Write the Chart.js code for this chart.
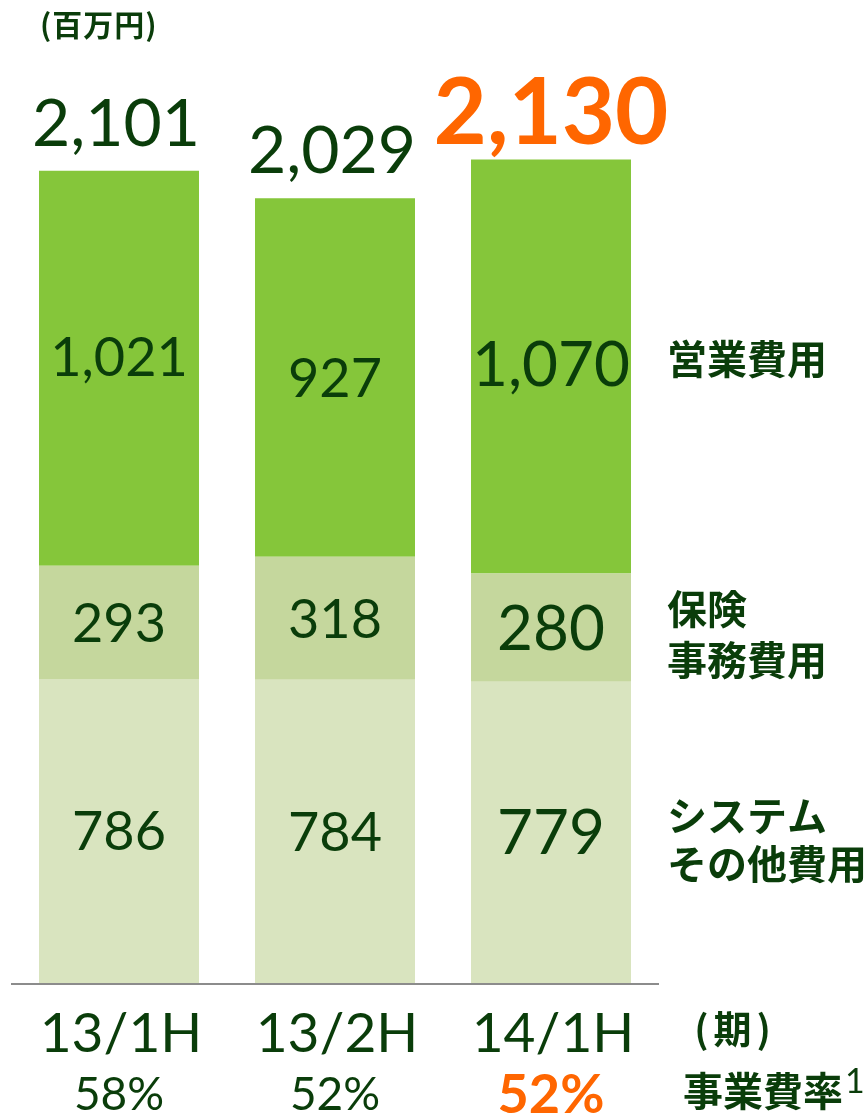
<!DOCTYPE html>
<html>
<head>
<meta charset="utf-8">
<script src="https://cdn.jsdelivr.net/npm/chart.js@4.4.1/dist/chart.umd.min.js"></script>
<style>
  html, body { margin: 0; padding: 0; background: #fff; }
  #wrap { width: 868px; height: 1117px; }
</style>
</head>
<body>
<div id="wrap"><canvas id="costChart" width="868" height="1117"></canvas></div>
<script>
// Data (百万円)
const periods = ['13/1H', '13/2H', '14/1H'];
const systemOther = [786, 784, 779];
const insuranceAdmin = [293, 318, 280];
const salesCost = [1021, 927, 1070];
const totals = [2101, 2029, 2130];
const expenseRatio = ['58%', '52%', '52%'];
const seriesNames = [['システム', 'その他費用'], ['保険', '事務費用'], ['営業費用']];
const highlightIndex = 2;

// Colours
const DARK = '#0A3D0A';
const ORANGE = '#FF6600';
const AXIS = '#8C8C8C';
const NUM_FONT = 'Lato, "Noto Sans", sans-serif';
const JP_FONT = '"Noto Sans CJK JP", sans-serif';

const fmt = v => v.toLocaleString('en-US');

// Draws values, totals, category labels and series names
const labelPlugin = {
    id: 'costLabels',
    afterDatasetsDraw(chart) {
        const { ctx, chartArea } = chart;
        const bottom = chartArea.bottom;
        ctx.save();

        // baseline
        ctx.strokeStyle = AXIS;
        ctx.lineWidth = 2;
        ctx.beginPath();
        ctx.moveTo(chartArea.left, bottom + 1);
        ctx.lineTo(chartArea.right, bottom + 1);
        ctx.stroke();

        // values inside segments (top value of first bar sits a bit high in the original)
        const nudge = [[0, 0, 0], [0, 0, 0], [-12, 0, -2]];
        ctx.textAlign = 'center';
        ctx.textBaseline = 'middle';
        ctx.fillStyle = DARK;
        chart.data.datasets.forEach((ds, i) => {
            chart.getDatasetMeta(i).data.forEach((bar, j) => {
                const size = j === highlightIndex ? 62 : 54;
                ctx.font = `${size}px ${NUM_FONT}`;
                ctx.fillText(fmt(ds.data[j]), bar.x, (bar.y + bar.base) / 2 + 2 + nudge[i][j]);
            });
        });

        // totals above bars
        ctx.textBaseline = 'alphabetic';
        const topMeta = chart.getDatasetMeta(chart.data.datasets.length - 1);
        topMeta.data.forEach((bar, j) => {
            if (j === highlightIndex) {
                ctx.font = `bold 92px ${NUM_FONT}`;
                ctx.fillStyle = ORANGE;
                ctx.fillText(fmt(totals[j]), bar.x, bar.y - 16);
            } else {
                ctx.font = `66px ${NUM_FONT}`;
                ctx.fillStyle = DARK;
                ctx.fillText(fmt(totals[j]), bar.x - 3, bar.y - 25);
            }
        });

        // category + ratio labels
        topMeta.data.forEach((bar, j) => {
            ctx.fillStyle = DARK;
            ctx.font = `55px ${NUM_FONT}`;
            ctx.fillText(periods[j], bar.x + 2, bottom + 69);
            if (j === highlightIndex) {
                ctx.fillStyle = ORANGE;
                ctx.font = `bold 54px ${NUM_FONT}`;
                ctx.fillText(expenseRatio[j], bar.x, bottom + 130);
            } else {
                ctx.font = `46px ${NUM_FONT}`;
                ctx.fillText(expenseRatio[j], bar.x, bottom + 127);
            }
        });

        // series names, next to last bar
        ctx.fillStyle = DARK;
        ctx.textAlign = 'left';
        ctx.textBaseline = 'middle';
        ctx.font = `bold 40px ${JP_FONT}`;
        const nameX = chartArea.right + 8;
        const nameOffset = [7, 7, -8];
        const lineGap = [48, 51, 0];
        chart.data.datasets.forEach((ds, i) => {
            const bar = chart.getDatasetMeta(i).data[highlightIndex];
            const mid = (bar.y + bar.base) / 2 + nameOffset[i];
            const lines = seriesNames[i];
            lines.forEach((t, k) => {
                const yy = mid + (k - (lines.length - 1) / 2) * lineGap[i];
                ctx.fillText(t, nameX, yy);
            });
        });

        // unit + period + ratio captions
        ctx.font = `bold 30px ${JP_FONT}`;
        ctx.letterSpacing = '1px';
        ctx.fillText('(百万円)', 40, 25);
        ctx.font = `bold 38px ${JP_FONT}`;
        ctx.letterSpacing = '5px';
        ctx.textAlign = 'center';
        ctx.fillText('(期)', 735, bottom + 46);
        ctx.letterSpacing = '0px';
        ctx.textAlign = 'left';
        ctx.font = `bold 40px ${JP_FONT}`;
        ctx.fillText('事業費率', 683, bottom + 108);
        const w = ctx.measureText('事業費率').width;
        ctx.font = `34px ${NUM_FONT}`;
        ctx.textBaseline = 'alphabetic';
        ctx.fillText('1', 683 + w + 2, bottom + 110);

        ctx.restore();
    }
};

const ctx = document.getElementById('costChart').getContext('2d');
new Chart(ctx, {
    type: 'bar',
    data: {
        labels: periods,
        datasets: [
            { label: 'システム その他費用', data: systemOther, backgroundColor: '#D9E4BF' },
            { label: '保険 事務費用', data: insuranceAdmin, backgroundColor: '#C5D79D' },
            { label: '営業費用', data: salesCost, backgroundColor: '#85C63A' }
        ]
    },
    options: {
        responsive: false,
        animation: false,
        events: [],
        layout: { padding: { left: 11, right: 209, top: 16, bottom: 134 } },
        datasets: { bar: { barPercentage: 0.7407, categoryPercentage: 1.0, borderWidth: 0 } },
        scales: {
            x: { stacked: true, display: false },
            y: { stacked: true, display: false, min: 0, max: 2500 }
        },
        plugins: { legend: { display: false }, tooltip: { enabled: false } }
    },
    plugins: [labelPlugin]
});
</script>
</body>
</html>
